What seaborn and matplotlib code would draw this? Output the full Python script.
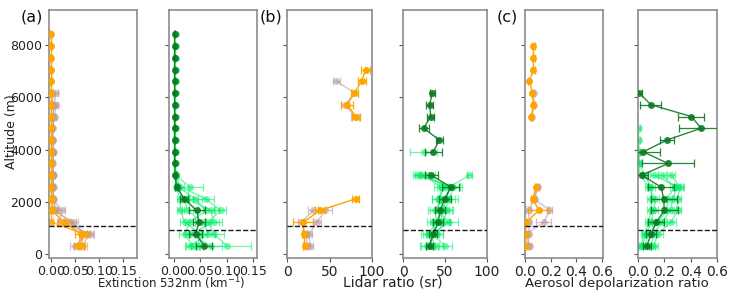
"""Vertical profiles of extinction, lidar ratio and depolarization (6 panels)."""
import matplotlib
matplotlib.use("Agg")
import matplotlib.pyplot as plt
import numpy as np
import pandas as pd
import seaborn as sns

nan = np.nan

# altitude grid of the profiles (m)
ALT = [320, 770, 1220, 1670, 2120, 2570, 3020, 3470, 3920, 4370,
       4820, 5270, 5720, 6170, 6620, 7070, 7520, 7970, 8420]

# (a) extinction 532 nm (km-1)
ext_or_main = [0.058, 0.062, 0.027, 0.002, 0.001, 0.001, 0.001, 0.001, 0.001, 0.001,
               0.001, 0.001, 0.001, 0.001, 0.001, 0.001, 0.001, 0.001, 0.001]
ext_or_main_err = [0.010, 0.012, 0.012, 0.003, 0.002, 0.002, 0.002, 0.002, 0.002, 0.002,
                   0.002, 0.002, 0.002, 0.002, 0.002, 0.002, 0.002, 0.002, 0.002]
ext_or_2 = [0.063, 0.068, 0.001, 0.002, 0.002]
ext_or_2_err = [0.008, 0.010, 0.004, 0.002, 0.002]
ext_mv = [
    [0.050, 0.075, 0.040, 0.010, 0.006, 0.004, 0.006, 0.003, 0.006, 0.004, 0.005, 0.004, 0.007, 0.010],
    [0.065, 0.080, 0.018, 0.022, 0.004, 0.006, 0.004, 0.003, 0.004, 0.002, 0.003, 0.008, 0.010],
    [0.055, 0.070, 0.045, 0.008, 0.005, 0.003, 0.004, 0.005, 0.003, 0.004, 0.002, 0.005, 0.004, 0.003],
]
ext_mv_err = [
    [0.010, 0.012, 0.012, 0.004, 0.003, 0.002, 0.003, 0.002, 0.003, 0.002, 0.002, 0.002, 0.003, 0.004],
    [0.010, 0.010, 0.006, 0.008, 0.002, 0.003, 0.002, 0.002, 0.002, 0.002, 0.002, 0.003, 0.004],
    [0.008, 0.010, 0.010, 0.003, 0.002, 0.002, 0.002, 0.002, 0.002, 0.002, 0.002, 0.002, 0.002, 0.002],
]

ext_gr_main = [0.057, 0.041, 0.047, 0.043, 0.019, 0.005, 0.002, 0.001, 0.001, 0.001,
               0.001, 0.001, 0.001, 0.001, 0.001, 0.001, 0.001, 0.001, 0.001]
ext_gr_main_err = [0.015, 0.012, 0.012, 0.015, 0.008, 0.003, 0.002, 0.001, 0.001, 0.001,
                   0.001, 0.001, 0.001, 0.001, 0.001, 0.001, 0.001, 0.001, 0.001]
ext_gr = [
    [0.100, 0.075, 0.065, 0.088, 0.060, 0.012, 0.004, 0.003, 0.003, 0.003, 0.003, 0.003,
     0.003, 0.003, 0.003, 0.003, 0.003, 0.003, 0.003],
    [0.035, 0.020, 0.030, 0.060, 0.040, 0.008, 0.003, 0.002, 0.002, 0.002, 0.002, 0.002,
     0.002, 0.002, 0.002, 0.002, 0.002, 0.002],
    [0.030, 0.065, 0.055, 0.025, 0.020, 0.005, 0.002, 0.002, 0.002, 0.002, 0.002, 0.002],
    [0.045, 0.050, 0.020, 0.012, 0.012, 0.003, 0.003],
    [0.070, 0.030, 0.075, 0.070, 0.025, 0.030, 0.004],
]
ext_gr_err = [
    [0.045, 0.020, 0.020, 0.010, 0.015, 0.006, 0.002],
    [0.012, 0.010, 0.010, 0.015, 0.012, 0.004, 0.002],
    [0.010, 0.012, 0.015, 0.010, 0.008, 0.003, 0.002],
    [0.012, 0.012, 0.008, 0.006, 0.006, 0.002, 0.002],
    [0.020, 0.010, 0.015, 0.015, 0.010, 0.025, 0.002],
]

# (b) lidar ratio (sr)
lr_or_main = [21, 20, 19, 38.6, 81, nan, nan, nan, nan, nan, nan, 81, 71, 79, 88, 92.5]
lr_or_main_err = [2, 2, 12, 6, 4, nan, nan, nan, nan, nan, nan, 5, 7, 4, 5, 5]
lr_mv = [
    [27, 26, 35, 45, nan, nan, nan, nan, nan, nan, nan, 80, 68, 80, 58],
    [24, 22, 16.5, 31],
]
lr_mv_err = [
    [3, 3, 5, 8, nan, nan, nan, nan, nan, nan, nan, 5, 4, 4, 4],
    [3, 3, 4, 6],
]

lr_gr_main = [31.6, 36, 42, 44, 50, 57, 33.6, nan, 36, 43.4, 24.5, 33, 31.6, 35]
lr_gr_main_err = [4, 5, 6, 6, 7, 10, 8, nan, 10, 4, 6, 4, 4, 3]
lr_gr = [
    [38, 32, 45, 47, 52, 55, 79],
    [30, 38, 36, 50, 55, 60, 17],
    [50, 35, 55, 40, 45, 45, 25, nan, 24.5],
    [28, 40, 48, 52, 42, 50, 30],
    [35, 30, 40, 38, 48, 58, 20],
]
lr_gr_err = [
    [10, 8, 10, 8, 10, 12, 3],
    [8, 10, 8, 8, 10, 10, 5],
    [8, 8, 10, 8, 10, 8, 6, nan, 16],
    [8, 8, 8, 8, 8, 10, 8],
    [8, 8, 8, 8, 8, 10, 6],
]

# (c) aerosol depolarization ratio
dp_or_main = [0.005, 0.005, 0.008, 0.107, 0.06, 0.087, nan, nan, nan, nan, nan,
              0.05, 0.066, 0.058, 0.034, 0.066, 0.066, 0.066]
dp_or_main_err = [0.005, 0.005, 0.010, 0.080, 0.010, 0.010, nan, nan, nan, nan, nan,
                  0.008, 0.008, 0.008, 0.008, 0.008, 0.008, 0.008]
dp_mv = [
    [0.035, 0.010, 0.145, 0.190, 0.075, 0.100, nan, nan, nan, nan, nan, 0.055, 0.070, 0.068],
    [0.020, 0.030, 0.030, 0.030, 0.070, 0.095],
]
dp_mv_err = [
    [0.010, 0.010, 0.060, 0.020, 0.010, 0.010, nan, nan, nan, nan, nan, 0.008, 0.008, 0.008],
    [0.010, 0.010, 0.020, 0.020, 0.010, 0.010],
]

dp_gr_main = [0.067, 0.10, 0.138, 0.20, 0.195, 0.175, 0.028, 0.228, 0.04, 0.22,
              0.48, 0.405, 0.098, 0.01]
dp_gr_main_err = [0.03, 0.04, 0.06, 0.10, 0.10, 0.10, 0.05, 0.20, 0.13, 0.05,
                  0.17, 0.10, 0.08, 0.02]
dp_gr = [
    [0.02, 0.05, 0.08, 0.10, 0.10, 0.10, 0.05, 0.01, 0.01, 0.005, 0.005],
    [0.12, 0.15, 0.25, 0.30, 0.30, 0.32, 0.25],
    [0.05, 0.08, 0.15, 0.22, 0.22, 0.28, 0.18],
    [0.10, 0.12, 0.18, 0.25, 0.26, 0.30, 0.12],
    [0.03, 0.06, 0.10, 0.12, 0.13, 0.08, 0.02, 0.0, 0.005],
]
dp_gr_err = [
    [0.02, 0.03, 0.03, 0.03, 0.03, 0.03, 0.02, 0.01, 0.01, 0.01, 0.01],
    [0.03, 0.04, 0.04, 0.03, 0.03, 0.03, 0.03],
    [0.03, 0.03, 0.04, 0.04, 0.04, 0.04, 0.03],
    [0.03, 0.03, 0.04, 0.04, 0.04, 0.04, 0.03],
    [0.02, 0.03, 0.03, 0.03, 0.03, 0.03, 0.02, 0.01, 0.01],
]

# boundary layer top markers (m)
BL_OR = 1085
BL_GR = 930

ORANGE = "#FFA500"
MAUVE = "#b99aa3"
DKGREEN = "#0d7a22"
LTGREEN = "#00ee66"


def to_frame(vals, errs):
    n = len(vals)
    df = pd.DataFrame({"x": vals, "alt": ALT[:n], "err": (list(errs) + [nan] * n)[:n]})
    # break the line wherever the profile has a gap
    df["seg"] = df["x"].isna().cumsum()
    return df.dropna(subset=["x"])


def draw(ax, vals, errs, color, alpha, ms=5, lw=1.0, z=2):
    df = to_frame(vals, errs)
    sns.lineplot(data=df, x="x", y="alt", units="seg", estimator=None, sort=False,
                 orient="y", color=color, alpha=alpha, marker="o", markersize=ms,
                 markeredgewidth=0, linewidth=lw, ax=ax, zorder=z, legend=False)
    e = df.dropna(subset=["err"])
    ax.errorbar(e["x"], e["alt"], xerr=e["err"], fmt="none", ecolor=color,
                alpha=alpha, elinewidth=0.9, capsize=3, capthick=0.9, zorder=z)


sns.set_theme(style="ticks")
plt.rcParams["font.family"] = ["DejaVu Sans"]

fig = plt.figure(figsize=(7.32, 3.0), dpi=100)
boxes = [(49, 88), (169, 88), (287, 85), (403, 84), (525, 78), (638, 79)]
axes = [fig.add_axes([l / 732, 42 / 300, w / 732, 248 / 300]) for l, w in boxes]

# (a)
a = axes[0]
for v, e in zip(ext_mv, ext_mv_err):
    draw(a, v, e, MAUVE, 0.6)
draw(a, ext_or_2, ext_or_2_err, ORANGE, 0.8)
draw(a, ext_or_main, ext_or_main_err, ORANGE, 1.0, z=3)
a.axhline(BL_OR, color="k", ls="--", lw=1, zorder=4)
a.set_xlim(-0.004, 0.178)
a.set_xticks([0, 0.05, 0.10, 0.15])

b = axes[1]
for v, e in zip(ext_gr, ext_gr_err):
    draw(b, v, e, LTGREEN, 0.55)
draw(b, ext_gr_main, ext_gr_main_err, DKGREEN, 0.9, z=3)
b.axhline(BL_GR, color="k", ls="--", lw=1, zorder=4)
b.set_xlim(-0.0095, 0.157)
b.set_xticks([0, 0.05, 0.10, 0.15])

# (b)
c = axes[2]
for v, e in zip(lr_mv, lr_mv_err):
    draw(c, v, e, MAUVE, 0.6)
draw(c, lr_or_main, lr_or_main_err, ORANGE, 1.0, z=3)
c.axhline(BL_OR, color="k", ls="--", lw=1, zorder=4)
c.set_xlim(0, 100)
c.set_xticks([0, 50, 100])

d = axes[3]
for v, e in zip(lr_gr, lr_gr_err):
    draw(d, v, e, LTGREEN, 0.55)
draw(d, lr_gr_main, lr_gr_main_err, DKGREEN, 0.9, z=3)
d.axhline(BL_GR, color="k", ls="--", lw=1, zorder=4)
d.set_xlim(0, 100)
d.set_xticks([0, 50, 100])

# (c)
e_ = axes[4]
for v, e in zip(dp_mv, dp_mv_err):
    draw(e_, v, e, MAUVE, 0.6)
draw(e_, dp_or_main, dp_or_main_err, ORANGE, 1.0, z=3)
e_.axhline(BL_OR, color="k", ls="--", lw=1, zorder=4)
e_.set_xlim(0, 0.606)
e_.set_xticks([0, 0.2, 0.4, 0.6])

f = axes[5]
for v, e in zip(dp_gr, dp_gr_err):
    draw(f, v, e, LTGREEN, 0.55)
draw(f, dp_gr_main, dp_gr_main_err, DKGREEN, 0.9, z=3)
f.axhline(BL_GR, color="k", ls="--", lw=1, zorder=4)
f.set_xlim(0, 0.6)
f.set_xticks([0, 0.2, 0.4, 0.6])

for i, ax in enumerate(axes):
    ax.set_ylim(-150, 9350)
    ax.set_yticks([0, 2000, 4000, 6000, 8000])
    ax.set_xlabel("")
    ax.set_ylabel("")
    for s in ax.spines.values():
        s.set_color("#8c8c8c")
        s.set_linewidth(1.2)
    ax.tick_params(color="#555555", length=3, width=0.8, pad=2, labelcolor="#222222")
    if i > 0:
        ax.set_yticklabels([])

axes[0].tick_params(labelsize=9)
axes[1].tick_params(axis="x", labelsize=9)
for ax in axes[2:]:
    ax.tick_params(axis="x", labelsize=10)
axes[2].set_xticklabels(["0", "50", "100"])
axes[3].set_xticklabels(["0", "50", "100"])
for ax in axes[4:]:
    ax.set_xticklabels(["0.0", "0.2", "0.4", "0.6"])
axes[0].set_xticklabels(["0.00", "0.05", "0.10", "0.15"])
axes[1].set_xticklabels(["0.00", "0.05", "0.10", "0.15"])

fig.text(12 / 732, 1 - 132 / 300, "Altitude (m)", rotation=90, ha="center",
         va="center", fontsize=9, color="#222222")

fig.text(171 / 732, 1 - 283 / 300, "Extinction 532nm (km$^{-1}$)", ha="center",
         va="center", fontsize=8.5, color="#222222")
fig.text(393 / 732, 1 - 283 / 300, "Lidar ratio (sr)", ha="center", va="center",
         fontsize=10, color="#222222")
fig.text(617 / 732, 1 - 283 / 300, "Aerosol depolarization ratio", ha="center",
         va="center", fontsize=9.5, color="#222222")

for lbl, x in [("(a)", 32), ("(b)", 271), ("(c)", 507)]:
    fig.text(x / 732, 1 - 17 / 300, lbl, ha="center", va="center", fontsize=11.5,
             color="#111111")

fig.savefig("out.png", dpi=100)
